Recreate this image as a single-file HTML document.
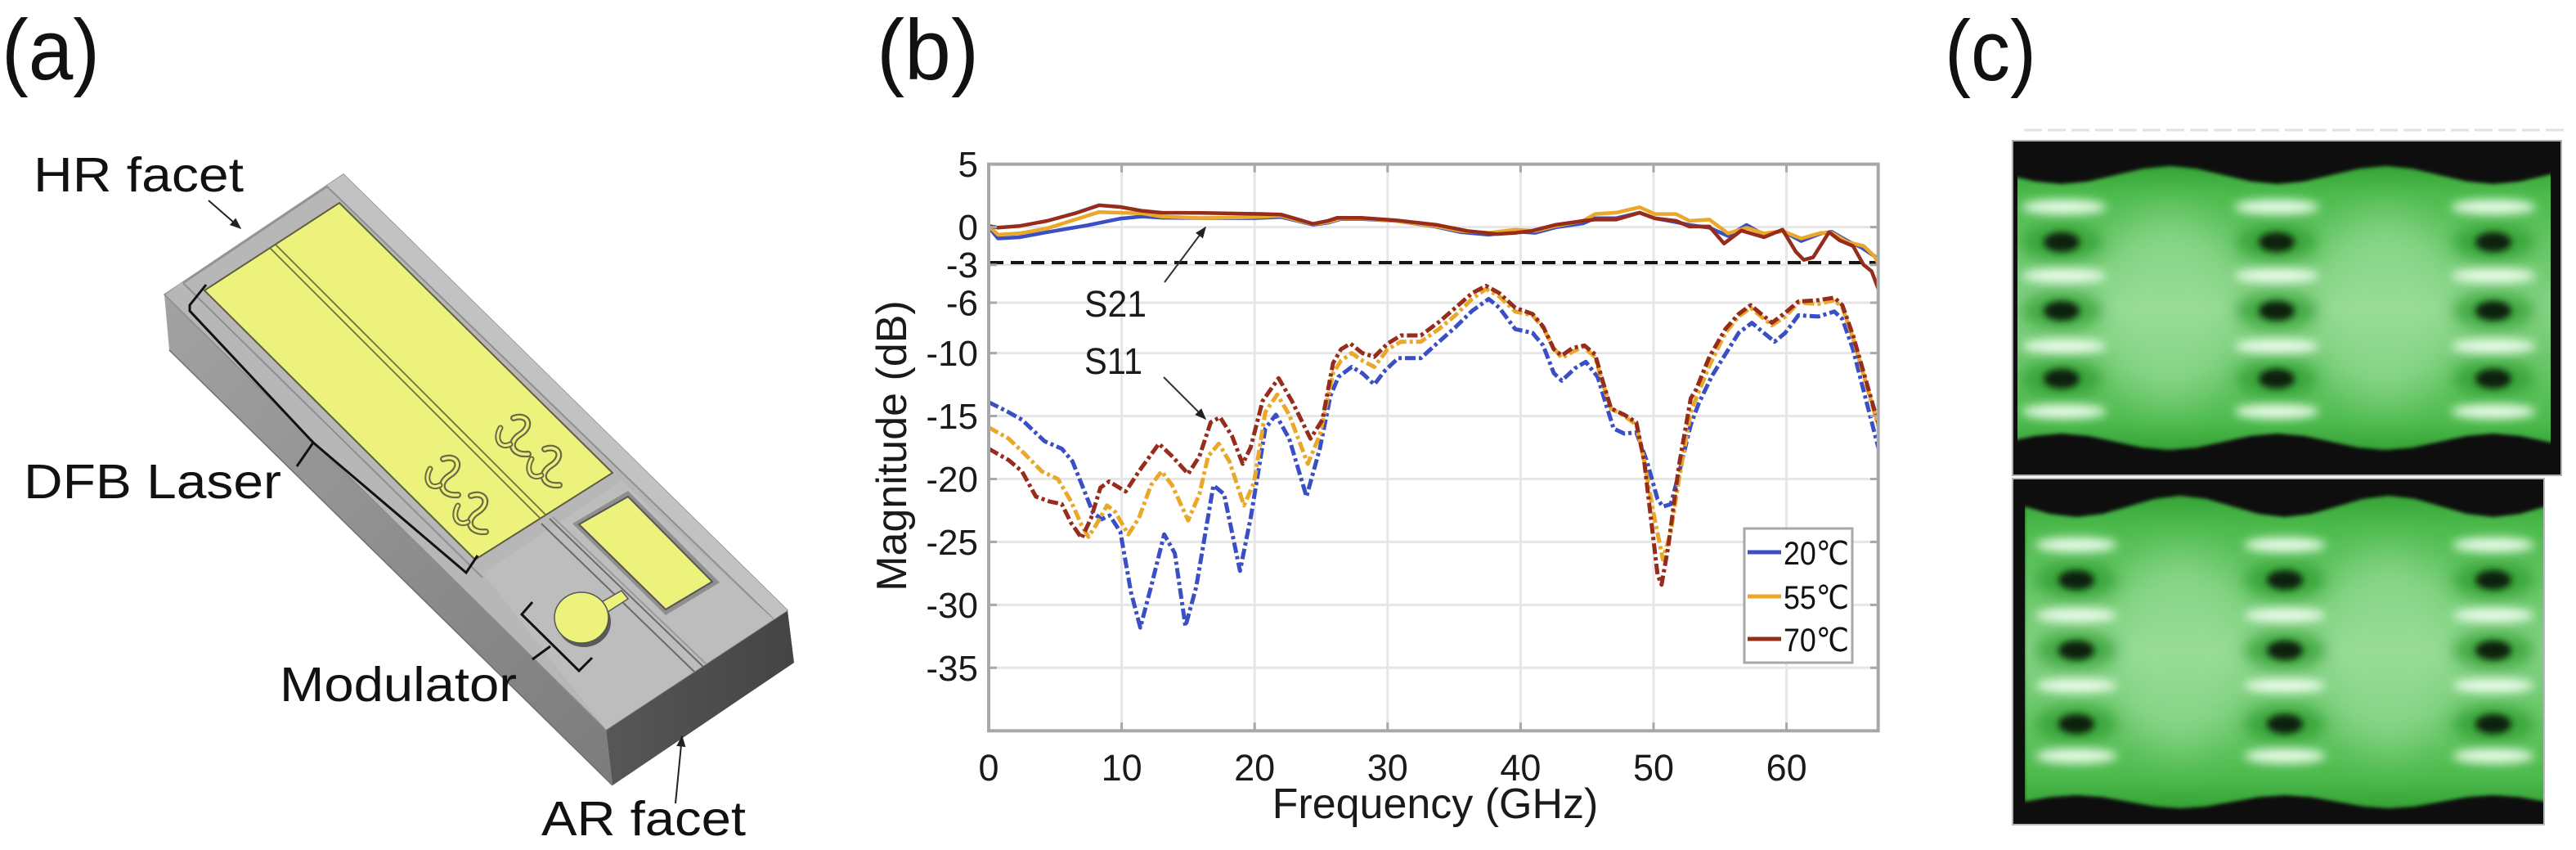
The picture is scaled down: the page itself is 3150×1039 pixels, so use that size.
<!DOCTYPE html>
<html><head><meta charset="utf-8"><style>
html,body{margin:0;padding:0;background:#fff;}
body{width:3150px;height:1039px;overflow:hidden;}
svg{display:block;}
text{font-family:"Liberation Sans",Arial,"DejaVu Sans",sans-serif;}
</style></head><body>
<svg xmlns="http://www.w3.org/2000/svg" width="3150" height="1039" viewBox="0 0 3150 1039">
<defs>
<linearGradient id="leftFace" x1="0" y1="0" x2="1" y2="1"><stop offset="0" stop-color="#a2a2a2"/><stop offset="1" stop-color="#7c7c7c"/></linearGradient>
<linearGradient id="frontFace" x1="0" y1="0" x2="1" y2="0"><stop offset="0" stop-color="#575757"/><stop offset="1" stop-color="#444"/></linearGradient>
<linearGradient id="gEye" x1="0" y1="0" x2="0" y2="1"><stop offset="0" stop-color="#36a336"/><stop offset="0.1" stop-color="#4cba4c"/><stop offset="0.5" stop-color="#86d386"/><stop offset="0.9" stop-color="#4cba4c"/><stop offset="1" stop-color="#36a336"/></linearGradient>
<filter id="b2" x="-20%" y="-20%" width="140%" height="140%"><feGaussianBlur stdDeviation="2"/></filter>
<filter id="b4" x="-60%" y="-60%" width="220%" height="220%"><feGaussianBlur stdDeviation="4"/></filter>
<filter id="b6" x="-60%" y="-60%" width="220%" height="220%"><feGaussianBlur stdDeviation="6"/></filter>
<filter id="b9" x="-60%" y="-60%" width="220%" height="220%"><feGaussianBlur stdDeviation="9"/></filter>
<filter id="b25" x="-60%" y="-60%" width="220%" height="220%"><feGaussianBlur stdDeviation="25"/></filter>
<clipPath id="plotClip"><rect x="1209" y="200.7" width="1087.7" height="692.6"/></clipPath>
<clipPath id="eyeTop"><rect x="2462" y="173" width="669" height="407"/></clipPath>
<clipPath id="eyeBot"><rect x="2462" y="586" width="648" height="421"/></clipPath>
<marker id="arr" viewBox="0 0 10 10" refX="9" refY="5" markerWidth="7" markerHeight="7" orient="auto-start-reverse"><path d="M0,1 L10,5 L0,9 z" fill="#222"/></marker>
</defs>

<!-- ================= (a) ================= -->
<!-- chip body -->
<polygon points="201,360 741,892 749,960 207,428" fill="url(#leftFace)"/>
<polygon points="741,892 963,746 971,810 749,960" fill="url(#frontFace)"/>
<polygon points="201,360 420,213 963,746 741,892" fill="#b7b7b7" stroke="#8c8c8c" stroke-width="1.5"/>
<!-- rims -->
<polygon points="201,360 420,213 963,746 946,757 400,228 224,346" fill="#c2c2c2"/>
<polyline points="224,346 400,228 946,757" fill="none" stroke="#8f8f8f" stroke-width="2"/>
<line x1="224" y1="346" x2="590" y2="706" stroke="#8f8f8f" stroke-width="2"/>
<line x1="207" y1="428" x2="749" y2="960" stroke="#6e6e6e" stroke-width="1.5"/>
<!-- modulator section lighter -->
<polygon points="590,700 760,588 946,757 741,892" fill="#bdbdbd"/>
<!-- main pad -->
<polygon points="250,355 415,248 749,578 581,684" fill="#ecf27c" stroke="#5e5e40" stroke-width="2"/>
<line x1="330" y1="303" x2="661" y2="634" stroke="#6f6f3a" stroke-width="1.8"/>
<line x1="337" y1="299" x2="668" y2="630" stroke="#6f6f3a" stroke-width="1.8"/>
<!-- meanders -->
<g fill="none" stroke-linecap="round">
<g transform="translate(548,585)"><path d="M-6,-24 C12,-30 18,-14 2,-4 C-14,6 -8,22 12,20" stroke="#6a6a45" stroke-width="8"/><path d="M-6,-24 C12,-30 18,-14 2,-4 C-14,6 -8,22 12,20" stroke="#ecf27c" stroke-width="3.5"/><path d="M-22,-12 C-30,2 -22,14 -10,8" stroke="#6a6a45" stroke-width="7"/><path d="M-22,-12 C-30,2 -22,14 -10,8" stroke="#ecf27c" stroke-width="3"/></g>
<g transform="translate(582,630)"><path d="M-6,-24 C12,-30 18,-14 2,-4 C-14,6 -8,22 12,20" stroke="#6a6a45" stroke-width="8"/><path d="M-6,-24 C12,-30 18,-14 2,-4 C-14,6 -8,22 12,20" stroke="#ecf27c" stroke-width="3.5"/><path d="M-22,-12 C-30,2 -22,14 -10,8" stroke="#6a6a45" stroke-width="7"/><path d="M-22,-12 C-30,2 -22,14 -10,8" stroke="#ecf27c" stroke-width="3"/></g>
<g transform="translate(634,535)"><path d="M-6,-24 C12,-30 18,-14 2,-4 C-14,6 -8,22 12,20" stroke="#6a6a45" stroke-width="8"/><path d="M-6,-24 C12,-30 18,-14 2,-4 C-14,6 -8,22 12,20" stroke="#ecf27c" stroke-width="3.5"/><path d="M-22,-12 C-30,2 -22,14 -10,8" stroke="#6a6a45" stroke-width="7"/><path d="M-22,-12 C-30,2 -22,14 -10,8" stroke="#ecf27c" stroke-width="3"/></g>
<g transform="translate(672,573)"><path d="M-6,-24 C12,-30 18,-14 2,-4 C-14,6 -8,22 12,20" stroke="#6a6a45" stroke-width="8"/><path d="M-6,-24 C12,-30 18,-14 2,-4 C-14,6 -8,22 12,20" stroke="#ecf27c" stroke-width="3.5"/><path d="M-22,-12 C-30,2 -22,14 -10,8" stroke="#6a6a45" stroke-width="7"/><path d="M-22,-12 C-30,2 -22,14 -10,8" stroke="#ecf27c" stroke-width="3"/></g>
</g>
<!-- modulator waveguide trench -->
<line x1="662" y1="640" x2="850" y2="822" stroke="#6a6a6a" stroke-width="2"/>
<line x1="672" y1="634" x2="860" y2="815" stroke="#6a6a6a" stroke-width="2"/>
<line x1="676" y1="632" x2="864" y2="812" stroke="#9a9a9a" stroke-width="2"/>
<!-- modulator pad -->
<polygon points="700,640 768,600 880,712 814,752" fill="#8f8f8f"/>
<polygon points="708,641 768,607 871,711 814,745" fill="#ecf27c" stroke="#555" stroke-width="2"/>
<!-- round pad -->
<polygon points="732,738 760,722 768,732 740,750" fill="#ecf27c" stroke="#555" stroke-width="1.5"/>
<ellipse cx="714" cy="760" rx="33" ry="31" fill="#5a5a5a"/>
<ellipse cx="711" cy="755" rx="33" ry="31" fill="#ecf27c" stroke="#555" stroke-width="1.5"/>
<!-- brackets -->
<path d="M252,348 L232,373 L232,380 L383,541 L363,570 M383,541 L570,700 L584,679" fill="none" stroke="#111" stroke-width="3"/>
<path d="M651,736 L638,751 L708,820 L724,804 M673,790 L651,806" fill="none" stroke="#111" stroke-width="3"/>
<!-- arrows -->
<line x1="255" y1="245" x2="294" y2="279" stroke="#222" stroke-width="2" marker-end="url(#arr)"/>
<line x1="826" y1="982" x2="834" y2="900" stroke="#222" stroke-width="2" marker-end="url(#arr)"/>

<text x="2" y="97" font-size="105" fill="#111" textLength="120" lengthAdjust="spacingAndGlyphs">(a)</text>
<text x="41" y="234" font-size="59" fill="#111" textLength="257" lengthAdjust="spacingAndGlyphs">HR facet</text>
<text x="29" y="609" font-size="59" fill="#111" textLength="315" lengthAdjust="spacingAndGlyphs">DFB Laser</text>
<text x="342" y="857" font-size="59" fill="#111" textLength="290" lengthAdjust="spacingAndGlyphs">Modulator</text>
<text x="662" y="1021" font-size="59" fill="#111" textLength="250" lengthAdjust="spacingAndGlyphs">AR facet</text>

<!-- ================= (b) ================= -->
<text x="1072" y="97" font-size="105" fill="#111" textLength="125" lengthAdjust="spacingAndGlyphs">(b)</text>

<!-- grid -->
<g stroke="#e6e6e6" stroke-width="3">
<line x1="1209" y1="277.65" x2="2297" y2="277.65"/>
<line x1="1209" y1="323.8" x2="2297" y2="323.8"/>
<line x1="1209" y1="370" x2="2297" y2="370"/>
<line x1="1209" y1="431.6" x2="2297" y2="431.6"/>
<line x1="1209" y1="508.5" x2="2297" y2="508.5"/>
<line x1="1209" y1="585.5" x2="2297" y2="585.5"/>
<line x1="1209" y1="662.4" x2="2297" y2="662.4"/>
<line x1="1209" y1="739.4" x2="2297" y2="739.4"/>
<line x1="1209" y1="816.3" x2="2297" y2="816.3"/>
<line x1="1371.6" y1="200.7" x2="1371.6" y2="893.3"/>
<line x1="1534.2" y1="200.7" x2="1534.2" y2="893.3"/>
<line x1="1696.8" y1="200.7" x2="1696.8" y2="893.3"/>
<line x1="1859.4" y1="200.7" x2="1859.4" y2="893.3"/>
<line x1="2022" y1="200.7" x2="2022" y2="893.3"/>
<line x1="2184.6" y1="200.7" x2="2184.6" y2="893.3"/>
</g>

<g clip-path="url(#plotClip)" fill="none" stroke-linejoin="round" stroke-linecap="butt">
<line x1="1211" y1="321" x2="2297" y2="321" stroke="#151515" stroke-width="4" stroke-dasharray="16 9"/>
<!-- S21 -->
<polyline stroke="#3b4fc4" stroke-width="4.5" points="1209,277.7 1220.4,291.5 1246.4,290 1280.5,283.8 1329.3,275.5 1370,267.2 1396,264.6 1420.4,266.1 1469.2,266.6 1534.2,266.6 1566.7,265.3 1583,269.2 1605.7,274.6 1623.6,272.3 1639.9,267.6 1664.3,267.6 1706.6,270 1753.7,276.7 1786.2,283.8 1820.4,286.9 1852.9,283 1877.3,284.6 1903.3,277.7 1935.8,273 1950.5,266.7 1976.5,266.7 2005,260 2023.6,266.9 2049.6,271.5 2065.9,275 2090.3,278.4 2113.1,288.4 2135.8,275 2157,286.9 2179.7,282.3 2202.5,294.6 2226.9,285.3 2239.9,283.3 2259.4,294.6 2275.7,302.3 2296.8,316.1"/>
<polyline stroke="#eaa82a" stroke-width="4.5" points="1209,276.1 1220.4,286.9 1246.4,285.3 1280.5,279.2 1314.7,268.4 1344,259.2 1370,260 1396,260.7 1420.4,264.6 1469.2,266.6 1534.2,265.3 1566.7,263.8 1583,268.4 1605.7,273.8 1623.6,271.5 1639.9,266.9 1664.3,266.9 1706.6,270 1753.7,276.1 1786.2,282.3 1820.4,284.6 1852.9,280.7 1877.3,282.3 1903.3,276.1 1935.8,270 1950.5,261.6 1976.5,259.9 2005,253.3 2023.6,261.6 2049.6,261.6 2065.9,270 2090.3,268.4 2113.1,285.3 2135.8,278.4 2157,285.3 2179.7,282.3 2202.5,291.5 2226.9,284.6 2239.9,284.6 2259.4,296.1 2279,300.7 2292,313.1 2296.8,322.3"/>
<polyline stroke="#962c1c" stroke-width="4.5" points="1209,276.1 1220.4,278.3 1246.4,276.3 1280.5,270 1314.7,260.7 1344,250.9 1370,253 1396,257.6 1420.4,260 1469.2,260.3 1540.7,261.5 1566.7,262.3 1583,266.9 1605.7,273.6 1623.6,270 1635,266.3 1664.3,266.3 1706.6,269.2 1757,274.9 1794.4,282.3 1830.1,286.1 1852.9,284.6 1872.4,282.3 1901.7,274.9 1935.8,270 1950.5,268.4 1976.5,268.4 2005,260 2023.6,266.9 2049.6,270 2065.9,276.9 2090.3,276.9 2108.2,297.7 2129.3,281.8 2157,290 2179.7,280.7 2196,307.7 2205.7,317.7 2217.1,314.6 2236.6,283.8 2249.6,293.8 2265.9,300.7 2278.9,323.8 2288.6,331.5 2296.8,353.1"/>
<!-- S11 -->
<g stroke-width="5" stroke-dasharray="13 4 4 4">
<polyline stroke="#3b4fc4" points="1209,491.6 1233.4,503.9 1249.7,513.1 1277.3,539.3 1298.4,548.5 1311.4,563.9 1324.4,596.2 1336.6,627 1347.2,634.7 1357,630.1 1370,650.1 1383,724 1394.4,767.1 1407.4,717.8 1423.6,653.2 1436.6,676.3 1449.6,765.5 1462.7,717.8 1483.8,593.2 1496.8,603.9 1516.3,697.8 1529.3,633.2 1537.5,584 1547.2,523.9 1560.2,507 1576.5,536.2 1597.6,607 1613.9,548.5 1626.9,483.9 1636.6,460.8 1652.9,448.5 1665.9,456.2 1680.5,470 1693.5,453.1 1709.8,437.7 1737.5,437.7 1757,420 1779.7,400 1800.1,380 1820.4,365.4 1833.4,376.2 1852.9,402.3 1874,406.9 1887,422.3 1900.1,456.2 1909.8,465.4 1926.1,450 1939.1,442.3 1953.7,460.8 1963.5,493.1 1973.2,523.9 1986.2,530 2000.9,528.5 2013.9,563.9 2026.9,610.1 2033.4,619.3 2043.1,616.2 2052.9,579.3 2067.5,519.3 2077.3,493.1 2093.5,459.3 2109.8,433.1 2126.1,406.9 2142.3,394.6 2156.9,406.9 2170,417.7 2183,406.9 2199.2,385.4 2223.6,386.9 2243.1,380.8 2252.9,390 2265.9,426.9 2280.5,483.9 2296.8,547"/>
<polyline stroke="#eaa82a" points="1209,522.4 1233.4,536.2 1252.9,554.7 1274,576.2 1293.6,585.5 1309.8,613.1 1322.8,642.4 1331,656.2 1339.9,642.4 1353.7,617.8 1363.5,625.5 1379.7,653.2 1392.7,633.2 1407.4,593.2 1420.4,576.2 1433.4,593.2 1452.9,636.2 1466.7,603.9 1477.3,557.8 1490.3,542.4 1503.3,563.9 1521.2,617.8 1533.4,590.1 1547.2,503.9 1561.8,482.3 1576.5,507 1599.2,567 1613.9,531.6 1630.1,456.2 1639.9,440.8 1652.9,431.6 1665.9,440.8 1680.5,448.5 1696.8,426.9 1713.1,417.7 1737.5,417.7 1760.2,401.7 1779.7,385.4 1800.1,365.4 1817.1,353.1 1833.4,362.3 1852.9,380.8 1874,385.4 1887,400.8 1900.1,425.4 1909.8,437.7 1922.8,430 1935.8,423.9 1950.5,436.2 1960.2,470 1970,499.3 1986.2,508.5 2000.9,519.3 2010.6,563.9 2020.4,619.3 2033.4,683.9 2043.1,650.1 2052.9,587 2067.5,503.9 2074,486.9 2090.3,446.9 2109.8,406.9 2126.1,386.9 2140.7,376.2 2153.7,386.9 2166.7,397.7 2183,386.9 2199.2,370 2223.6,371.5 2243.1,366.9 2252.9,376.2 2265.9,413.1 2280.5,463.9 2296.8,520.8"/>
<polyline stroke="#962c1c" points="1209,548.5 1233.4,562.4 1249.7,576.2 1266.7,607 1283.8,613.1 1298.4,616.2 1309.8,639.3 1322.8,657.8 1334.2,633.2 1345.6,596.2 1356.2,588.5 1376.5,600.8 1392.7,576.2 1417.1,542.4 1433.4,557.8 1452.9,579.3 1466.7,557.8 1480.5,516.2 1491.9,510 1506.6,533.1 1519.6,567 1529.3,547 1544,490 1563.5,462.3 1579.7,490 1602.5,536.2 1617.1,513.1 1630.1,443.9 1639.9,426.9 1651.3,420 1665.9,431.6 1680.5,436.2 1696.8,420 1713.1,410 1737.5,410 1760.2,393.1 1779.7,376.2 1800.1,358.3 1817.1,349.4 1833.4,358.3 1852.9,376.2 1874,383.8 1887,399.2 1900.1,426.9 1909.8,434.6 1922.8,425.4 1937.4,422.3 1950.5,433.1 1960.2,467 1970,499.3 1986.2,507 2000.9,516.2 2010.6,563.9 2017.1,619.3 2026.9,702.4 2031.8,714.7 2039.9,668.6 2052.9,570.1 2067.5,486.9 2074,476.2 2090.3,436.2 2109.8,402.3 2126.1,383.8 2140.7,373.1 2153.7,383.8 2166.7,394.6 2183,382.3 2199.2,368.5 2223.6,366.9 2243.1,363.8 2252.9,373.1 2265.9,410 2280.5,460.8 2296.8,517.7"/>
</g>
</g>

<!-- axes box & ticks -->
<rect x="1209" y="200.7" width="1087.7" height="692.6" fill="none" stroke="#a8a8a8" stroke-width="4"/>
<path stroke="#a8a8a8" stroke-width="3" fill="none" d="M1209,277.65h10M1209,323.8h10M1209,370h10M1209,431.6h10M1209,508.5h10M1209,585.5h10M1209,662.4h10M1209,739.4h10M1209,816.3h10M2297,277.65h-10M2297,323.8h-10M2297,370h-10M2297,431.6h-10M2297,508.5h-10M2297,585.5h-10M2297,662.4h-10M2297,739.4h-10M2297,816.3h-10M1371.6,893.3v-10M1534.2,893.3v-10M1696.8,893.3v-10M1859.4,893.3v-10M2022,893.3v-10M2184.6,893.3v-10M1371.6,200.7v10M1534.2,200.7v10M1696.8,200.7v10M1859.4,200.7v10M2022,200.7v10M2184.6,200.7v10"/>

<!-- tick labels -->
<g font-size="44" fill="#1a1a1a" text-anchor="end">
<text x="1196" y="216">5</text>
<text x="1196" y="293">0</text>
<text x="1196" y="339">-3</text>
<text x="1196" y="385.5">-6</text>
<text x="1196" y="447">-10</text>
<text x="1196" y="524">-15</text>
<text x="1196" y="601">-20</text>
<text x="1196" y="678">-25</text>
<text x="1196" y="755">-30</text>
<text x="1196" y="832">-35</text>
</g>
<g font-size="45" fill="#1a1a1a" text-anchor="middle">
<text x="1209" y="954">0</text>
<text x="1371.6" y="954">10</text>
<text x="1534.2" y="954">20</text>
<text x="1696.8" y="954">30</text>
<text x="1859.4" y="954">40</text>
<text x="2022" y="954">50</text>
<text x="2184.6" y="954">60</text>
</g>
<text x="1755" y="1000" font-size="52" fill="#1a1a1a" text-anchor="middle">Frequency (GHz)</text>
<text transform="translate(1108,545) rotate(-90)" x="0" y="0" font-size="52" fill="#1a1a1a" text-anchor="middle">Magnitude (dB)</text>

<!-- annotations -->
<text x="1326" y="387" font-size="45" fill="#1a1a1a" textLength="76" lengthAdjust="spacingAndGlyphs">S21</text>
<text x="1326" y="457" font-size="45" fill="#1a1a1a" textLength="71" lengthAdjust="spacingAndGlyphs">S11</text>
<line x1="1424" y1="345" x2="1474" y2="278" stroke="#333" stroke-width="2" marker-end="url(#arr)"/>
<line x1="1423" y1="461" x2="1474" y2="512" stroke="#333" stroke-width="2" marker-end="url(#arr)"/>

<!-- legend -->
<rect x="2133" y="646" width="132" height="164" fill="#fff" stroke="#a8a8a8" stroke-width="3"/>
<line x1="2137" y1="675" x2="2178" y2="675" stroke="#3b4fc4" stroke-width="5"/>
<line x1="2137" y1="729" x2="2178" y2="729" stroke="#eaa82a" stroke-width="5"/>
<line x1="2137" y1="781" x2="2178" y2="781" stroke="#962c1c" stroke-width="5"/>
<g font-size="40" fill="#111">
<text x="2181" y="690" textLength="80" lengthAdjust="spacingAndGlyphs">20℃</text>
<text x="2181" y="744" textLength="80" lengthAdjust="spacingAndGlyphs">55℃</text>
<text x="2181" y="796" textLength="80" lengthAdjust="spacingAndGlyphs">70℃</text>
</g>

<!-- ================= (c) ================= -->
<text x="2378" y="98" font-size="105" fill="#111" textLength="112" lengthAdjust="spacingAndGlyphs">(c)</text>
<line x1="2475" y1="159" x2="3140" y2="159" stroke="#e2e2e2" stroke-width="3" stroke-dasharray="22 7"/>

<!-- top eye -->
<rect x="2461" y="172" width="671" height="409" fill="#0e0e0e" stroke="#b0b0b0" stroke-width="2"/>
<g clip-path="url(#eyeTop)">
<path filter="url(#b2)" fill="url(#gEye)" d="M2455,214 L2488,221.8 L2521,225 L2554,221.8 L2587,214 L2620,206.2 L2653,203 L2686,206.2 L2719,214 L2752,221.8 L2785,225 L2818,221.8 L2851,214 L2884,206.2 L2917,203 L2950,206.2 L2983,214 L3016,221.8 L3049,225 L3082,221.8 L3115,214 L3148,206.2 L3148,547.1 L3115,540 L3082,532.9 L3049,530 L3016,532.9 L2983,540 L2950,547.1 L2917,550 L2884,547.1 L2851,540 L2818,532.9 L2785,530 L2752,532.9 L2719,540 L2686,547.1 L2653,550 L2620,547.1 L2587,540 L2554,532.9 L2521,530 L2488,532.9 L2455,540 Z"/>
<g filter="url(#b25)" fill="#a6e3a6" opacity="0.55">
<ellipse cx="2652" cy="377" rx="85" ry="120"/><ellipse cx="2916" cy="377" rx="85" ry="120"/>
</g>
<g filter="url(#b9)" fill="#2c9a2c" opacity="0.75">
<ellipse cx="2521" cy="296" rx="50" ry="22"/><ellipse cx="2521" cy="380" rx="50" ry="22"/><ellipse cx="2521" cy="463" rx="50" ry="22"/>
<ellipse cx="2784" cy="296" rx="50" ry="22"/><ellipse cx="2784" cy="380" rx="50" ry="22"/><ellipse cx="2784" cy="463" rx="50" ry="22"/>
<ellipse cx="3049" cy="296" rx="50" ry="22"/><ellipse cx="3049" cy="380" rx="50" ry="22"/><ellipse cx="3049" cy="463" rx="50" ry="22"/>
</g>
<g filter="url(#b6)" fill="#f2fff2" opacity="0.95">
<ellipse cx="2524" cy="253" rx="52" ry="9"/><ellipse cx="2524" cy="337" rx="52" ry="9"/><ellipse cx="2524" cy="423" rx="52" ry="9"/><ellipse cx="2524" cy="503" rx="52" ry="9"/>
<ellipse cx="2784" cy="253" rx="52" ry="9"/><ellipse cx="2784" cy="337" rx="52" ry="9"/><ellipse cx="2784" cy="423" rx="52" ry="9"/><ellipse cx="2784" cy="503" rx="52" ry="9"/>
<ellipse cx="3049" cy="253" rx="52" ry="9"/><ellipse cx="3049" cy="337" rx="52" ry="9"/><ellipse cx="3049" cy="423" rx="52" ry="9"/><ellipse cx="3049" cy="503" rx="52" ry="9"/>
</g>
<g filter="url(#b4)" fill="#0a240a">
<ellipse cx="2521" cy="296" rx="22" ry="12"/><ellipse cx="2521" cy="380" rx="22" ry="12"/><ellipse cx="2521" cy="463" rx="22" ry="12"/>
<ellipse cx="2784" cy="296" rx="22" ry="12"/><ellipse cx="2784" cy="380" rx="22" ry="12"/><ellipse cx="2784" cy="463" rx="22" ry="12"/>
<ellipse cx="3049" cy="296" rx="22" ry="12"/><ellipse cx="3049" cy="380" rx="22" ry="12"/><ellipse cx="3049" cy="463" rx="22" ry="12"/>
</g>
<rect x="2462" y="173" width="5" height="407" fill="#0e0e0e"/>
<rect x="3119" y="173" width="12" height="407" fill="#0e0e0e"/>
</g>

<!-- bottom eye -->
<rect x="2461" y="585" width="650" height="423" fill="#0e0e0e" stroke="#b8b8b8" stroke-width="2"/>
<g clip-path="url(#eyeBot)">
<path filter="url(#b2)" fill="url(#gEye)" d="M2475,619 L2507,628.2 L2539,632 L2571,628.2 L2603,619 L2635,609.8 L2666,606 L2698,609.8 L2730,619 L2762,628.2 L2794,632 L2826,628.2 L2858,619 L2890,609.8 L2921,606 L2953,609.8 L2985,619 L3017,628.2 L3049,632 L3081,628.2 L3113,619 L3120,615 L3120,982 L3113,980 L3081,974.3 L3049,972 L3017,974.3 L2985,980 L2953,985.7 L2921,988 L2890,985.7 L2858,980 L2826,974.3 L2794,972 L2762,974.3 L2730,980 L2698,985.7 L2666,988 L2635,985.7 L2603,980 L2571,974.3 L2539,972 L2507,974.3 L2475,980 Z"/>
<g filter="url(#b25)" fill="#a6e3a6" opacity="0.55">
<ellipse cx="2666" cy="795" rx="85" ry="125"/><ellipse cx="2921" cy="795" rx="85" ry="125"/>
</g>
<g filter="url(#b9)" fill="#2c9a2c" opacity="0.75">
<ellipse cx="2539" cy="709" rx="50" ry="22"/><ellipse cx="2539" cy="795" rx="50" ry="22"/><ellipse cx="2539" cy="885" rx="50" ry="22"/>
<ellipse cx="2794" cy="709" rx="50" ry="22"/><ellipse cx="2794" cy="795" rx="50" ry="22"/><ellipse cx="2794" cy="885" rx="50" ry="22"/>
<ellipse cx="3049" cy="709" rx="50" ry="22"/><ellipse cx="3049" cy="795" rx="50" ry="22"/><ellipse cx="3049" cy="885" rx="50" ry="22"/>
</g>
<g filter="url(#b6)" fill="#f2fff2" opacity="0.95">
<ellipse cx="2539" cy="666" rx="50" ry="9"/><ellipse cx="2539" cy="752" rx="50" ry="9"/><ellipse cx="2539" cy="838" rx="50" ry="9"/><ellipse cx="2539" cy="924" rx="50" ry="9"/>
<ellipse cx="2794" cy="666" rx="50" ry="9"/><ellipse cx="2794" cy="752" rx="50" ry="9"/><ellipse cx="2794" cy="838" rx="50" ry="9"/><ellipse cx="2794" cy="924" rx="50" ry="9"/>
<ellipse cx="3049" cy="666" rx="50" ry="9"/><ellipse cx="3049" cy="752" rx="50" ry="9"/><ellipse cx="3049" cy="838" rx="50" ry="9"/><ellipse cx="3049" cy="924" rx="50" ry="9"/>
</g>
<g filter="url(#b4)" fill="#0a240a">
<ellipse cx="2539" cy="709" rx="22" ry="12"/><ellipse cx="2539" cy="795" rx="22" ry="12"/><ellipse cx="2539" cy="885" rx="22" ry="12"/>
<ellipse cx="2794" cy="709" rx="22" ry="12"/><ellipse cx="2794" cy="795" rx="22" ry="12"/><ellipse cx="2794" cy="885" rx="22" ry="12"/>
<ellipse cx="3049" cy="709" rx="22" ry="12"/><ellipse cx="3049" cy="795" rx="22" ry="12"/><ellipse cx="3049" cy="885" rx="22" ry="12"/>
</g>
<rect x="2462" y="586" width="14" height="421" fill="#0e0e0e"/>
</g>
</svg>
</body></html>
